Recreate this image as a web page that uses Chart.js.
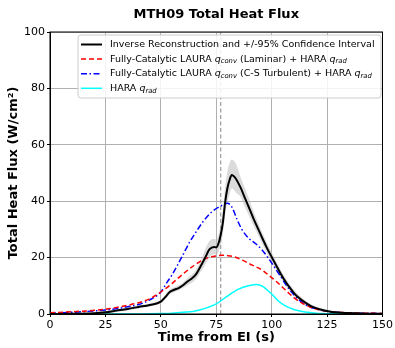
<!DOCTYPE html>
<html lang="en">
<head>
    <meta charset="UTF-8">
    <title>MTH09 Total Heat Flux</title>
    <script src="https://cdn.jsdelivr.net/npm/chart.js"></script>
    <style>
        html, body { margin: 0; padding: 0; background: #fff; }
        #wrap { width: 395px; height: 348px; }
    </style>
</head>
<body>
    <div id="wrap"><canvas id="fluxChart"></canvas></div>

    <script>
        // inverse reconstruction + confidence band
        const reconT  = [0,10,20,25,30,35,40,45,50,52,54,56,58,60,62,64,66,68,70,72,74,75,76,77,78,79,80,81,82,83,84,86,88,90,92,94,96,98,100,102,104,106,108,110,112,115,118,122,126,130,140,150];
        const recon   = [0,0.1,0.3,0.6,1.2,1.8,2.5,3.2,4.4,6,7.8,8.6,9.2,10.2,11.5,12.6,14.2,17,20,23,23.8,23.6,25,28,32.5,39.5,44.5,47.5,49.3,48.8,47.8,44.8,41,37.3,33.5,30,26.5,23.2,20.2,17.3,14.4,11.8,9.5,7.5,5.9,4.1,2.7,1.6,0.9,0.5,0.2,0.1];
        const reconHi = [0.3,0.5,0.8,1.1,1.7,2.3,3,3.7,5,6.8,8.7,9.5,10.1,11.2,12.8,14.1,15.9,19,23,26,26.6,26.5,28,32,37,45,50.5,53.5,54.8,54.3,53,48.5,44.5,40.3,36,32.2,28.5,25,21.8,18.8,15.8,13.1,10.7,8.6,6.9,4.9,3.3,2,1.2,0.8,0.4,0.3];
        const reconLo = [0,0,0,0.2,0.7,1.3,2,2.7,3.8,5.2,6.9,7.7,8.3,9.2,10.2,11.1,12.5,15,17.5,20.3,21.2,21,22,24.5,28.5,35,39.5,42.5,44.5,44,43,41.5,37.8,34.5,31,27.8,24.5,21.4,18.6,15.8,13,10.5,8.3,6.4,4.9,3.3,2.1,1.2,0.6,0.3,0,0];

        // LAURA laminar + HARA
        const lamT = [0,10,20,25,30,35,40,45,50,55,60,65,70,75,78,80,83,87,91,95,98,100,102,105,108,110,115,120,125,130,140,150];
        const lam  = [0.4,0.8,1.3,1.7,2.3,3.1,4,5.4,7.8,10.8,14.2,17.2,19.6,20.6,20.8,20.7,20.3,19,17.4,15.9,14.2,12.9,11.6,9.4,7.2,5.8,3.3,1.8,1,0.6,0.3,0.2];

        // LAURA C-S turbulent + HARA
        const turbT = [0,10,20,25,30,35,40,45,50,53,55,60,63,65,69,73,77,80,82,84.5,86.7,89.7,92.7,95.7,98.6,101.6,104.6,107.6,110.5,115,120,125,130,140,150];
        const turb  = [0.3,0.6,1.1,1.4,1.9,2.6,3.4,5,7.8,11.5,13.8,21,25.5,28,32.7,36.2,38.3,39.3,38,33.3,29.8,26.8,25,22.7,19.7,16.2,12.6,9.1,6.4,3.4,1.8,1,0.6,0.3,0.2];

        // HARA radiative only
        const radT = [0,30,40,45,50,55,60,65,70,75,80,85,90,93,96,98,100,103,106,110,115,120,130,150];
        const rad  = [0,0,0.02,0.05,0.15,0.3,0.6,1,2,3.6,6.3,8.8,10.1,10.5,9.8,8.5,7.1,4.6,3,1.6,0.7,0.3,0.1,0];

        // vertical marker
        const markT = [77, 77];
        const markV = [0, 100];

        const xTicks = [0, 25, 50, 75, 100, 125, 150];
        const yTicks = [0, 20, 40, 60, 80, 100];

        const legendRows = [
            [["Inverse Reconstruction and +/-95% Confidence Interval"]],
            [["Fully-Catalytic LAURA "], ["q", "i"], ["conv", "s"], [" (Laminar) + HARA "], ["q", "i"], ["rad", "s"]],
            [["Fully-Catalytic LAURA "], ["q", "i"], ["conv", "s"], [" (C-S Turbulent) + HARA "], ["q", "i"], ["rad", "s"]],
            [["HARA "], ["q", "i"], ["rad", "s"]]
        ];

        const pts = (xs, ys) => xs.map((x, i) => ({ x: x, y: ys[i] }));
        const FONT = "'DejaVu Sans', sans-serif";

        const frame = {
            id: "frame",
            afterDraw(chart) {
                const { ctx, chartArea: a } = chart;
                ctx.save();
                ctx.strokeStyle = "#000";
                ctx.lineWidth = 1;
                ctx.strokeRect(a.left, a.top, a.right - a.left, a.bottom - a.top);

                // legend box
                const bx = 78, by = 35, bw = 303, bh = 63;
                ctx.beginPath();
                ctx.roundRect(bx, by, bw, bh, 3);
                ctx.fillStyle = "rgba(255,255,255,0.85)";
                ctx.fill();
                ctx.strokeStyle = "#cccccc";
                ctx.stroke();

                const styleIdx = [0, 3, 4, 5];
                legendRows.forEach((row, r) => {
                    const y = by + 9.5 + r * 14.6;
                    const ds = chart.data.datasets[styleIdx[r]];
                    ctx.beginPath();
                    ctx.setLineDash(ds.borderDash || []);
                    ctx.strokeStyle = ds.borderColor;
                    ctx.lineWidth = ds.borderWidth;
                    ctx.moveTo(81, y);
                    ctx.lineTo(102, y);
                    ctx.stroke();
                    ctx.setLineDash([]);

                    let x = 110;
                    ctx.fillStyle = "#000";
                    ctx.textBaseline = "middle";
                    row.forEach(seg => {
                        const kind = seg[1];
                        let dy = 0;
                        if (kind === "i") ctx.font = "italic 9.5px " + FONT;
                        else if (kind === "s") { ctx.font = "italic 6.8px " + FONT; dy = 2.5; }
                        else ctx.font = "9.5px " + FONT;
                        ctx.fillText(seg[0], x, y + dy);
                        x += ctx.measureText(seg[0]).width;
                    });
                });
                ctx.restore();
            }
        };

        new Chart(document.getElementById("fluxChart"), {
            type: "line",
            data: {
                datasets: [
                    {
                        label: "Inverse Reconstruction",
                        data: pts(reconT, recon),
                        borderColor: "#000",
                        borderWidth: 2,
                        fill: false
                    },
                    {
                        label: "upper",
                        data: pts(reconT, reconHi),
                        borderWidth: 0,
                        borderColor: "rgba(0,0,0,0)",
                        backgroundColor: "rgba(190,190,190,0.55)",
                        fill: "+1",
                        order: 2
                    },
                    {
                        label: "lower",
                        data: pts(reconT, reconLo),
                        borderWidth: 0,
                        borderColor: "rgba(0,0,0,0)",
                        fill: false,
                        order: 2
                    },
                    {
                        label: "Laminar",
                        data: pts(lamT, lam),
                        borderColor: "#ff0000",
                        borderWidth: 1.5,
                        borderDash: [5, 3]
                    },
                    {
                        label: "Turbulent",
                        data: pts(turbT, turb),
                        borderColor: "#0000ff",
                        borderWidth: 1.5,
                        borderDash: [6, 2.5, 1.5, 2.5]
                    },
                    {
                        label: "HARA",
                        data: pts(radT, rad),
                        borderColor: "#00ffff",
                        borderWidth: 1.5
                    },
                    {
                        label: "marker",
                        data: pts(markT, markV),
                        borderColor: "#999999",
                        borderWidth: 1.2,
                        borderDash: [4, 2.5],
                        cubicInterpolationMode: "default",
                        tension: 0,
                        order: 1
                    }
                ]
            },
            options: {
                responsive: true,
                maintainAspectRatio: false,
                animation: false,
                layout: { padding: { top: 0, right: 9, left: 0, bottom: 0 } },
                elements: {
                    point: { radius: 0 },
                    line: { cubicInterpolationMode: "monotone", fill: false }
                },
                plugins: {
                    legend: { display: false },
                    tooltip: { enabled: false },
                    title: {
                        display: true,
                        fullSize: false,
                        text: "MTH09 Total Heat Flux",
                        color: "#000",
                        font: { family: FONT, size: 13, weight: "bold" },
                        padding: { top: 7, bottom: 9.4 }
                    }
                },
                scales: {
                    x: {
                        type: "linear",
                        min: 0,
                        max: 150,
                        afterFit: s => { s.height = 34; },
                        afterBuildTicks: s => { s.ticks = xTicks.map(v => ({ value: v })); },
                        ticks: { color: "#000", font: { family: FONT, size: 11 }, padding: 2, maxRotation: 0 },
                        grid: { color: "#b0b0b0", tickColor: "#000", tickLength: 3, lineWidth: 1 },
                        border: { color: "#000" },
                        title: {
                            display: true,
                            text: "Time from EI (s)",
                            color: "#000",
                            font: { family: FONT, size: 13, weight: "bold" },
                            padding: { top: 0, bottom: 3 }
                        }
                    },
                    y: {
                        min: 0,
                        max: 100,
                        afterFit: s => { s.width = 50; },
                        afterBuildTicks: s => { s.ticks = yTicks.map(v => ({ value: v })); },
                        ticks: { color: "#000", font: { family: FONT, size: 11 }, padding: 2 },
                        grid: { color: "#b0b0b0", tickColor: "#000", tickLength: 3, lineWidth: 1 },
                        border: { color: "#000" },
                        title: {
                            display: true,
                            text: "Total Heat Flux (W/cm²)",
                            color: "#000",
                            font: { family: FONT, size: 13, weight: "bold" },
                            padding: { top: 6, bottom: 0 }
                        }
                    }
                }
            },
            plugins: [frame]
        });
    </script>
</body>
</html>
